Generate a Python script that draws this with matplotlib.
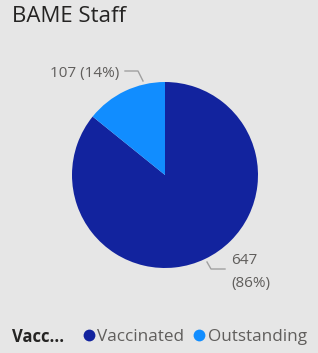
import matplotlib.pyplot as plt
import numpy as np
from matplotlib.lines import Line2D

plt.rcParams['font.family'] = ['Open Sans', 'DejaVu Sans']

categories = ["Vaccinated", "Outstanding"]
values = [647, 107]
colors = ["#12239E", "#118DFF"]
title = "BAME Staff"
legend_title = "Vacc..."

W, H = 318, 353
fig = plt.figure(figsize=(W / 100, H / 100), dpi=100)
fig.patch.set_facecolor("#E6E6E6")
ax = fig.add_axes([0, 0, 1, 1])

# pie, clockwise from 12 o'clock like Power BI
cx, cy, r = 165, H - 175, 93
ax.pie(values, colors=colors, startangle=90, counterclock=False,
       center=(cx, cy), radius=r, wedgeprops=dict(linewidth=0), frame=True)
ax.set_xlim(0, W)
ax.set_ylim(0, H)
ax.set_aspect("equal")
ax.axis("off")

total = sum(values)
pct = [round(v / total * 100) for v in values]
label_grey = "#605E5C"
line_grey = "#A0A0A0"
lab_size = 11

# Outstanding label (upper left)
ax.plot([125, 138, 143], [H - 71, H - 71, H - 81], color=line_grey, lw=1)
ax.text(119, H - 73, f"{values[1]} ({pct[1]}%)", ha="right", va="center",
        fontsize=lab_size, color=label_grey)

# Vaccinated label (lower right)
ax.plot([207, 211, 225], [H - 262, H - 269, H - 269], color=line_grey, lw=1)
ax.text(231, H - 260, f"{values[0]}", ha="left", va="center",
        fontsize=lab_size, color=label_grey)
ax.text(231, H - 283, f"({pct[0]}%)", ha="left", va="center",
        fontsize=lab_size, color=label_grey)

# title
fig.text(12 / W, 1 - 16 / H, title, ha="left", va="center",
         fontsize=16, color="#252423")

# legend
fig.text(12 / W, 1 - 337 / H, legend_title, ha="left", va="center",
         fontsize=12, fontweight="bold", color="#252423")
handles = [Line2D([], [], marker="o", linestyle="", markersize=8.5,
                  markerfacecolor=c, markeredgewidth=0) for c in colors]
leg = fig.legend(handles, categories, loc="center left",
                 bbox_to_anchor=(80 / W, 1 - 337 / H), ncols=2,
                 frameon=False, handletextpad=0.0, columnspacing=0.4,
                 handlelength=1.0, borderaxespad=0, borderpad=0,
                 prop={"size": 12.3})
for t in leg.get_texts():
    t.set_color(label_grey)

fig.savefig("out.png", dpi=100, facecolor=fig.get_facecolor())
